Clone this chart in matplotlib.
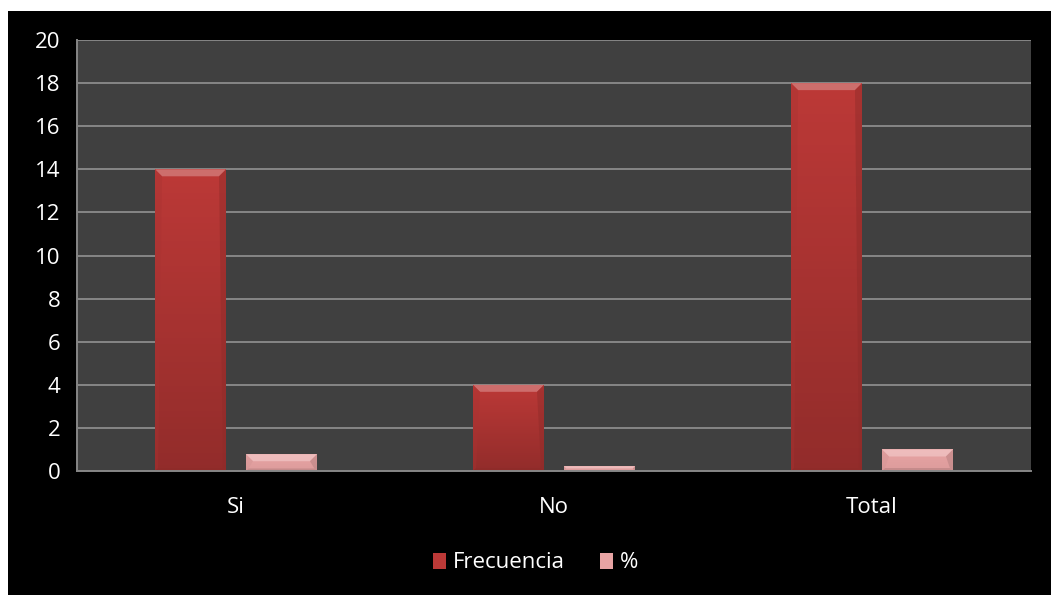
import numpy as np
import matplotlib
matplotlib.use("Agg")
import matplotlib.pyplot as plt
from matplotlib.patches import Rectangle, Polygon
from matplotlib.colors import to_rgb

categories = ["Si", "No", "Total"]
frecuencia = [14, 4, 18]
porcentaje = [0.78, 0.22, 1.0]
y_ticks = list(range(0, 21, 2))

plt.rcParams['font.family'] = ['Open Sans', 'DejaVu Sans']

fig = plt.figure(figsize=(10.51, 5.95), dpi=100, facecolor="white")
# black chart background (white strip on top and left as in the reference)
fig.patches.append(Rectangle((8 / 1051, 0), 1 - 8 / 1051, 1 - 11 / 595,
                             transform=fig.transFigure, facecolor="black",
                             edgecolor="none", zorder=-5))

ax = fig.add_axes([77 / 1051, 124 / 595, 954 / 1051, 431 / 595])
ax.set_zorder(2)
ax.set_facecolor("#404040")

x = np.arange(len(categories))
w = 0.223
off = 0.143
red, pink = "#BC3937", "#E8A4A4"
bars_f = ax.bar(x - off, frecuencia, w, color=red, label="Frecuencia", zorder=3)
bars_p = ax.bar(x + off, porcentaje, w, color=pink, label="%", zorder=3)

ax.set_xlim(-0.5, len(categories) - 0.5)
ax.set_ylim(0, 20)
ax.set_yticks(y_ticks)
ax.set_xticks(x)
ax.set_xticklabels(categories)
ax.yaxis.grid(True, color="#868686", linewidth=1.4, zorder=1)
ax.set_axisbelow(True)
for s in ["top", "right"]:
    ax.spines[s].set_visible(False)
for s in ["left", "bottom"]:
    ax.spines[s].set_color("#868686")
    ax.spines[s].set_linewidth(1.4)
    ax.spines[s].set_zorder(4)
ax.tick_params(length=0, colors="white", labelsize=16)
ax.tick_params(axis="y", pad=12)
ax.tick_params(axis="x", pad=19)


def shade(c, f):
    r, g, b = to_rgb(c)
    if f > 0:
        return (r + (1 - r) * f, g + (1 - g) * f, b + (1 - b) * f)
    return (r * (1 + f), g * (1 + f), b * (1 + f))


def bevel(bars, base, dark):
    # simple bevel look: vertical gradient plus lighter top / darker sides
    fig.canvas.draw()
    for b in bars:
        x0, y0, x1, y1 = b.get_window_extent().extents
        h = y1 - y0
        d = min(7, h * 0.45)
        db = min(3, h * 0.15)
        grad = np.linspace(0, 1, 50).reshape(-1, 1)
        top, bot = np.array(shade(base, 0.0)), np.array(shade(base, dark))
        img = top * (1 - grad[..., None]) + bot * grad[..., None]
        im = ax.imshow(img, extent=(b.get_x(), b.get_x() + b.get_width(), 0, b.get_height()),
                       aspect="auto", zorder=3.5)
        im.set_clip_path(b)
        polys = [
            ([(x0, y1), (x1, y1), (x1 - d, y1 - d), (x0 + d, y1 - d)], shade(base, 0.3), 0.9),
            ([(x0, y0), (x1, y0), (x1 - db, y0 + db), (x0 + db, y0 + db)], shade(base, -0.25), 0.5),
            ([(x0, y0), (x0, y1), (x0 + d, y1 - d), (x0 + db, y0 + db)], shade(base, -0.1), 0.4),
            ([(x1, y0), (x1, y1), (x1 - d, y1 - d), (x1 - db, y0 + db)], shade(base, -0.25), 0.45),
        ]
        for pts, col, a in polys:
            ax.add_patch(Polygon(pts, closed=True, transform=None, facecolor=col,
                                 edgecolor="none", zorder=3.6, alpha=a))


bevel(bars_f, red, -0.22)
bevel(bars_p, pink, -0.05)
ax.set_xlim(-0.5, len(categories) - 0.5)
ax.set_ylim(0, 20)

leg = fig.legend(loc="center", bbox_to_anchor=(0.5 + 10 / 1051, 1 - 563 / 595), ncol=2,
                 frameon=False, fontsize=16, labelcolor="white", handlelength=0.6,
                 handleheight=0.7, handletextpad=0.3, columnspacing=1.6)

fig.savefig("out.png", dpi=100, facecolor="white")
